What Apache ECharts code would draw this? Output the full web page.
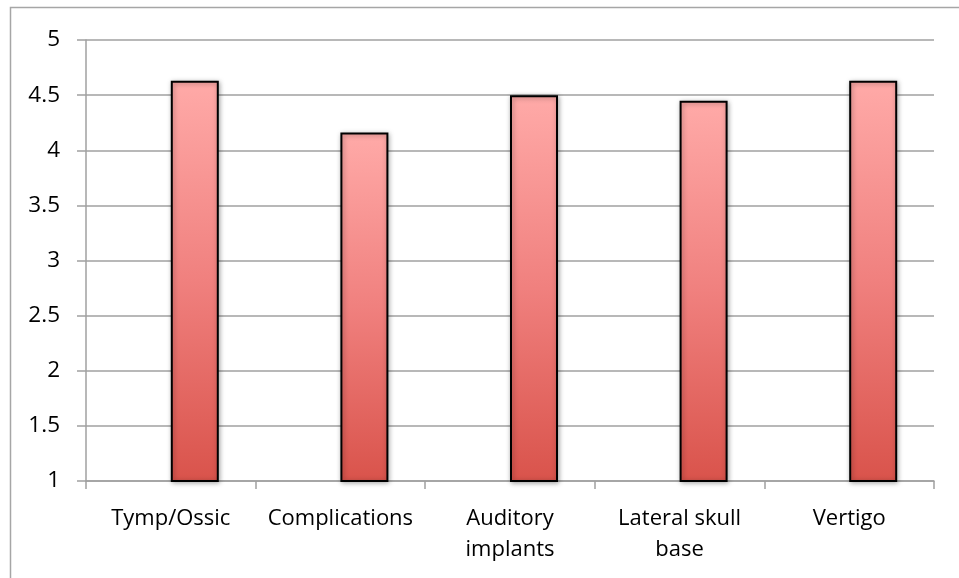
<!DOCTYPE html>
<html>
<head>
<meta charset="utf-8">
<script src="https://cdn.jsdelivr.net/npm/echarts@6/dist/echarts.min.js"></script>
<style>html,body{margin:0;padding:0;background:#fff;}#c{width:959px;height:578px;}</style>
</head>
<body>
<div id="c"></div>
<script>
const categories = ['Tymp/Ossic', 'Complications', 'Auditory\nimplants', 'Lateral skull\nbase', 'Vertigo'];
const values = [4.63, 4.16, 4.5, 4.45, 4.63];
const emptySeries = [null, null, null, null, null];

const chart = echarts.init(document.getElementById('c'), null, {renderer: 'canvas'});
const font = '"Open Sans", Lato, sans-serif';
chart.setOption({
  animation: false,
  backgroundColor: '#fff',
  graphic: [{
    type: 'rect', left: 8, top: 5, z: -1,
    shape: {x: 0, y: 0, width: 1000, height: 1000},
    style: {fill: 'none', stroke: '#a6a6a6', lineWidth: 1.5}
  }],
  grid: {left: 86, right: 25, top: 40, bottom: 97, containLabel: false},
  xAxis: {
    type: 'category',
    data: categories,
    axisLine: {lineStyle: {color: '#a0a0a0', width: 1.5}},
    axisTick: {show: true, interval: 0, length: 8, lineStyle: {color: '#a0a0a0', width: 1.5}},
    axisLabel: {interval: 0, hideOverlap: false, color: '#000', fontFamily: font, fontSize: 22, margin: 22, lineHeight: 31}
  },
  yAxis: {
    type: 'value', min: 1, max: 5, interval: 0.5,
    axisLine: {show: true, lineStyle: {color: '#a0a0a0', width: 1.5}},
    axisTick: {show: true, length: 9, lineStyle: {color: '#a0a0a0', width: 1.5}},
    splitLine: {lineStyle: {color: '#a0a0a0', width: 1.5}},
    axisLabel: {color: '#000', fontFamily: font, fontSize: 22.5, margin: 26, padding: [6, 0, 0, 0]}
  },
  series: [
    {type: 'bar', data: emptySeries, barWidth: 48, barGap: '0%'},
    {
      type: 'bar', data: values, barWidth: 48, barGap: '0%',
      itemStyle: {
        color: new echarts.graphic.LinearGradient(0, 0, 0, 1, [
          {offset: 0, color: '#ffaaa8'},
          {offset: 0.5, color: '#f0807e'},
          {offset: 1, color: '#d9534b'}
        ], false),
        borderColor: '#000', borderWidth: 2,
        shadowColor: 'rgba(0,0,0,0.35)', shadowBlur: 5, shadowOffsetX: 1, shadowOffsetY: 1
      }
    }
  ]
});
</script>
</body>
</html>
